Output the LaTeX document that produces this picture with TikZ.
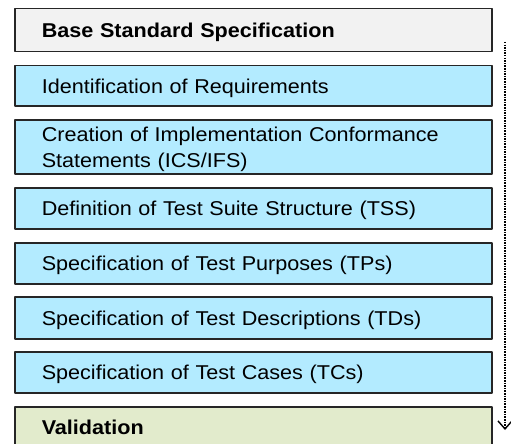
\documentclass[tikz,border=0pt]{standalone}
\usepackage{fontspec}
\setmainfont[FakeStretch=1.08]{Liberation Sans}
\usetikzlibrary{arrows.meta}
\definecolor{stepblue}{RGB}{179,235,255}
\definecolor{basegray}{RGB}{242,242,242}
\definecolor{validgreen}{RGB}{226,235,204}
\begin{document}
\begin{tikzpicture}[x=1pt,y=-1pt,line join=round,
  stage/.style={draw=black!85,line width=1.5pt,fill=stepblue,rectangle,anchor=north west,
    minimum width=477pt,text width=423pt,inner xsep=27pt,inner ysep=0pt,align=left,
    text height=17pt,text depth=2pt,font=\fontsize{20}{26}\selectfont},
  flow/.style={black,line width=1.9pt,dash pattern=on 1.5pt off 1.1pt,
    -{Straight Barb[length=8pt,width=14pt,line width=1.4pt]}}]
\useasboundingbox (0,0) rectangle (511,444);
\node[stage,fill=basegray,minimum height=43pt,font=\fontsize{20}{26}\selectfont\bfseries] (base) at (14,8) {Base Standard Specification};
\node[stage,minimum height=40pt] (req) at (14,65) {Identification of Requirements};
\node[stage,minimum height=54pt,text height=14pt,text depth=24pt] (ics) at (14,119) {Creation of Implementation Conformance\\Statements (ICS/IFS)};
\node[stage,minimum height=41pt] (tss) at (14,187) {Definition of Test Suite Structure (TSS)};
\node[stage,minimum height=41pt] (tp) at (14,242) {Specification of Test Purposes (TPs)};
\node[stage,minimum height=42pt] (td) at (14,296) {Specification of Test Descriptions (TDs)};
\node[stage,minimum height=41pt] (tc) at (14,351) {Specification of Test Cases (TCs)};
\node[stage,fill=validgreen,minimum height=40pt,font=\fontsize{20}{26}\selectfont\bfseries] (val) at (14,406) {Validation};
% process direction
\coordinate (start) at (505,42);
\coordinate (finish) at (505,430);
\draw[flow] (start) -- (finish);
\end{tikzpicture}
\end{document}
